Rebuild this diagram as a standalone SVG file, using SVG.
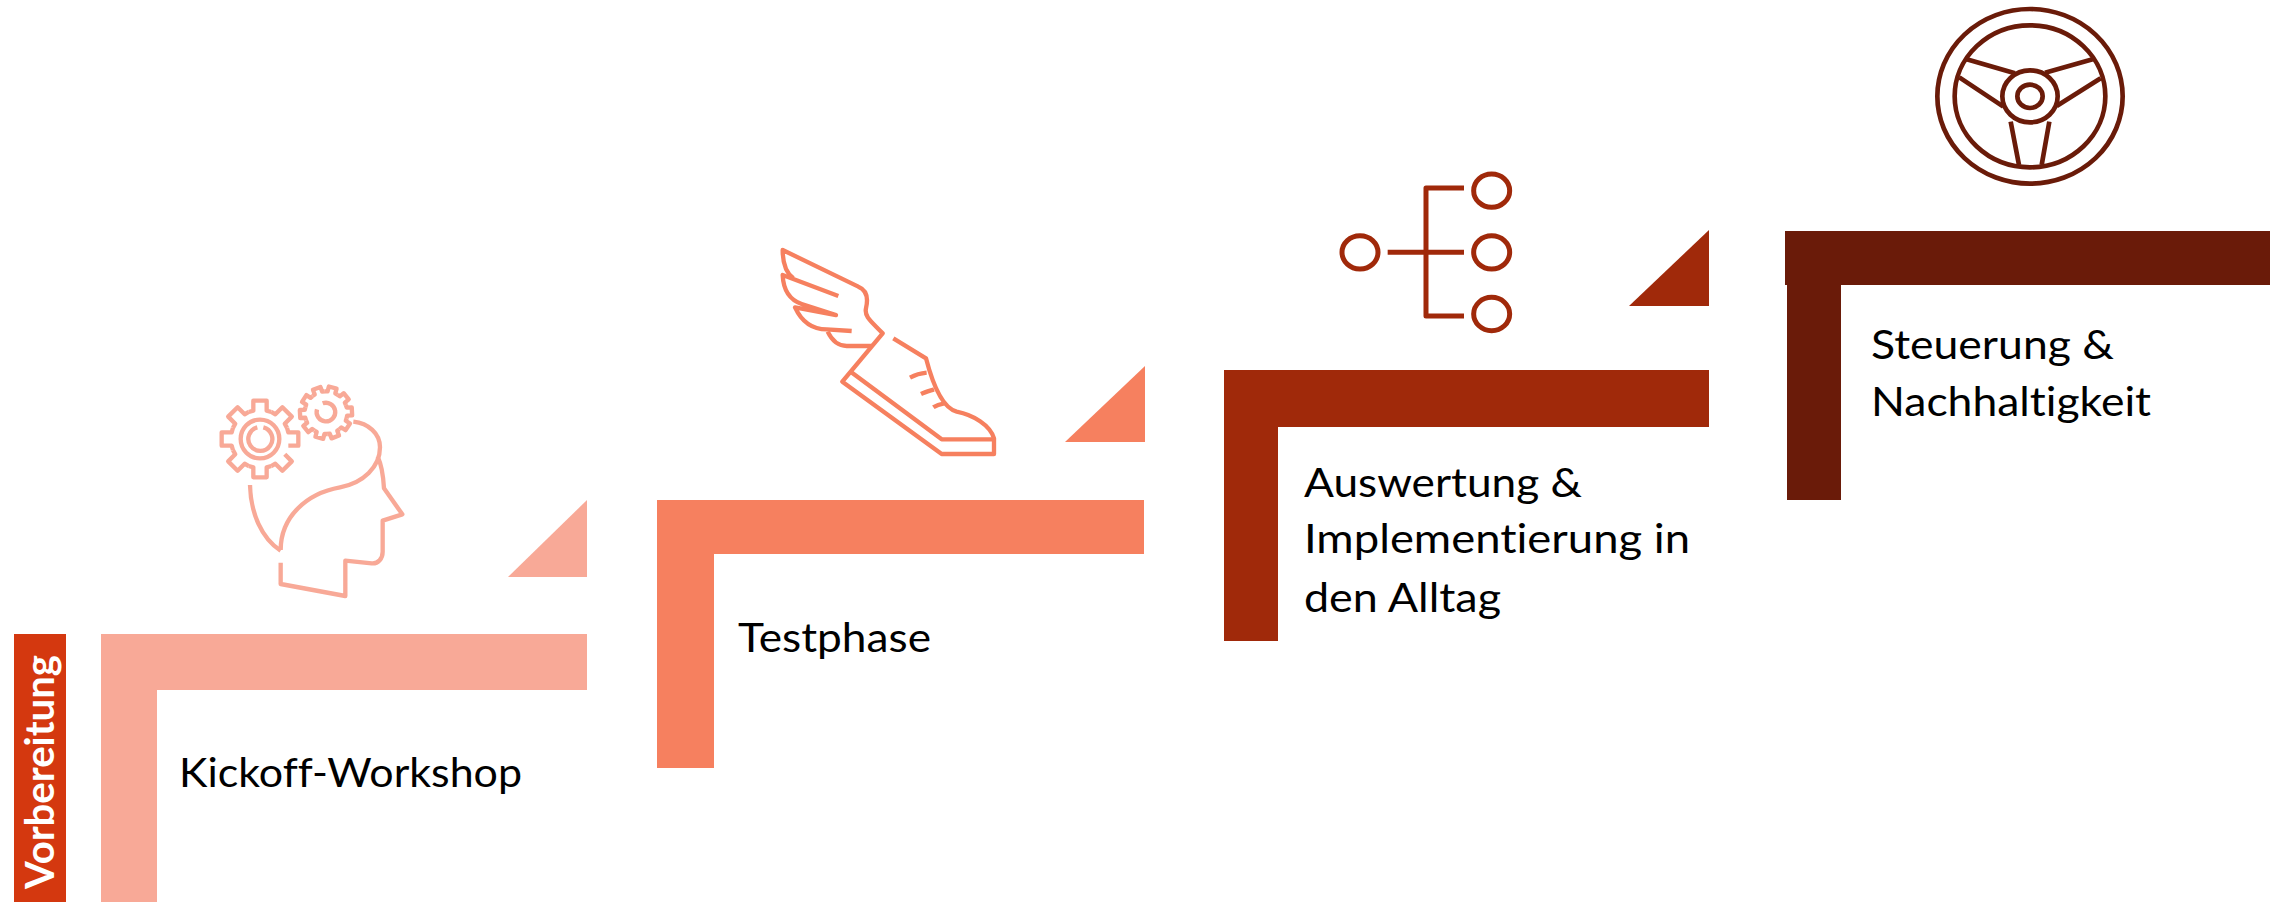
<svg xmlns="http://www.w3.org/2000/svg" xmlns:xlink="http://www.w3.org/1999/xlink" width="2285" height="902" viewBox="0 0 2285 902">
<style>
.t{font-family:"Lato","Noto Sans","Liberation Sans",sans-serif;font-size:41px;fill:#000;font-variant-ligatures:none}
.i{fill:none;stroke-linejoin:round;stroke-linecap:butt}
.c1{stroke:#F8A997;fill:none}
.c2{stroke:#F6805F;fill:none}
.c3{stroke:#A0290A;fill:none}
.c4{stroke:#6A1B09;fill:none}
</style>
<defs>
<path id="g1" d="M-33.7,-81L-20,-85V-115H20V-85L33.7,-81"/>
<path id="g2" d="M-19.8,-60.9L-12,-63V-78H12V-63L19.8,-60.9"/>
</defs>
<rect width="2285" height="902" fill="#fff"/>
<g id="prep"><rect x="14" y="634" width="52" height="268" fill="#D4380F"/>
<text transform="translate(54,889) rotate(-90)" textLength="234" lengthAdjust="spacingAndGlyphs" style="font-family:'Lato','Noto Sans',sans-serif;font-weight:700;font-size:40px;fill:#fff;font-variant-ligatures:none">Vorbereitung</text></g>
<g id="step1">
<path d="M101,634H587V690H157V902H101Z" fill="#F8A997"/>
<path d="M508,577L587,500V577Z" fill="#F8A997"/>
<text class="t" x="179" y="787" textLength="343" lengthAdjust="spacingAndGlyphs">Kickoff-Workshop</text>
<g class="i c1" transform="translate(190,370) scale(.33333)" stroke-width="13">
<g transform="translate(210,207)">
<use xlink:href="#g1"/><use xlink:href="#g1" transform="rotate(45)"/>
<path d="M-33.7,-81L-20,-85V-115H20V-85" transform="rotate(90)"/>
<path d="M-20,-85V-115H20V-85L33.7,-81" transform="rotate(135)"/>
<use xlink:href="#g1" transform="rotate(180)"/><use xlink:href="#g1" transform="rotate(225)"/><use xlink:href="#g1" transform="rotate(270)"/><use xlink:href="#g1" transform="rotate(315)"/>
<circle r="58"/><path d="M10,-35A36,36 0 1 1 -8,-35"/>
</g>
<g transform="translate(408,128)">
<use xlink:href="#g2" transform="rotate(15)"/><use xlink:href="#g2" transform="rotate(51)"/><use xlink:href="#g2" transform="rotate(87)"/><use xlink:href="#g2" transform="rotate(123)"/><use xlink:href="#g2" transform="rotate(159)"/><use xlink:href="#g2" transform="rotate(195)"/><use xlink:href="#g2" transform="rotate(231)"/><use xlink:href="#g2" transform="rotate(267)"/><use xlink:href="#g2" transform="rotate(303)"/><use xlink:href="#g2" transform="rotate(339)"/>
<path d="M-10,-28A28,28 0 1 1 -27,-10"/>
</g>
<path d="M490,155C535,160 570,190 570,232C570,290 520,340 450,352C350,370 272,440 272,540"/>
<path d="M180,345C182,430 215,505 272,542"/>
<path d="M563,260C575,285 580,320 582,355L637,433L578,452V545C578,565 565,582 545,580L466,572V678L272,642V578"/>
</g>
</g>
<g id="step2">
<path d="M657,500H1144V554H714V768H657Z" fill="#F6805F"/>
<path d="M1065,442L1145,366V442Z" fill="#F6805F"/>
<text class="t" x="738" y="652" textLength="193" lengthAdjust="spacingAndGlyphs">Testphase</text>
<g class="i c2" transform="translate(760,230) scale(.33333)" stroke-width="13">
<path d="M100,145C80,130 68,100 68,60L295,170C320,180 325,205 318,235C312,260 335,275 368,310L247,455L545,672H702V625C690,585 640,555 590,545C550,535 520,470 498,385L400,325"/>
<path d="M272,425L545,628H702"/>
<path d="M235,198L68,135C70,180 90,210 125,222L228,255L105,232C125,275 155,298 200,298L275,303"/>
<path d="M203,305C215,330 235,348 260,348H335"/>
<path d="M450,443C465,435 480,430 500,428M483,492C495,486 510,482 522,478M520,532C530,525 540,522 553,520"/>
</g>
</g>
<g id="step3">
<path d="M1224,370H1709V427H1278V641H1224Z" fill="#A0290A"/>
<path d="M1629,306L1709,230V306Z" fill="#A0290A"/>
<text class="t" x="1304" y="497" textLength="278" lengthAdjust="spacingAndGlyphs">Auswertung &amp;</text>
<text class="t" x="1304" y="553" textLength="386" lengthAdjust="spacingAndGlyphs">Implementierung in</text>
<text class="t" x="1304" y="612" textLength="197" lengthAdjust="spacingAndGlyphs">den Alltag</text>
<g class="i c3" transform="translate(1320,160) scale(.33333)" stroke-width="15">
<ellipse cx="120" cy="277" rx="54" ry="50"/><ellipse cx="515" cy="92" rx="54" ry="50"/><ellipse cx="515" cy="277" rx="54" ry="50"/><ellipse cx="515" cy="462" rx="54" ry="50"/>
<path d="M432,84H318V468H432M203,277H432"/>
</g>
</g>
<g id="step4">
<path d="M1785,231H2270V285H1841V500H1787V285H1785Z" fill="#6A1B09"/>
<text class="t" x="1871" y="359" textLength="243" lengthAdjust="spacingAndGlyphs">Steuerung &amp;</text>
<text class="t" x="1871" y="416" textLength="280" lengthAdjust="spacingAndGlyphs">Nachhaltigkeit</text>
<g class="i c4" transform="translate(1920,0) scale(.33333)" stroke-width="14">
<ellipse cx="330" cy="289" rx="278" ry="262"/><ellipse cx="330" cy="289" rx="226" ry="213"/><ellipse cx="330" cy="289" rx="83" ry="78"/><ellipse cx="330" cy="289" rx="38" ry="35"/>
<path d="M140,178L285,220M118,232L250,320M518,178L375,218M542,235L410,318M272,365L297,495M388,365L365,495"/>
</g>
</g>
</svg>
